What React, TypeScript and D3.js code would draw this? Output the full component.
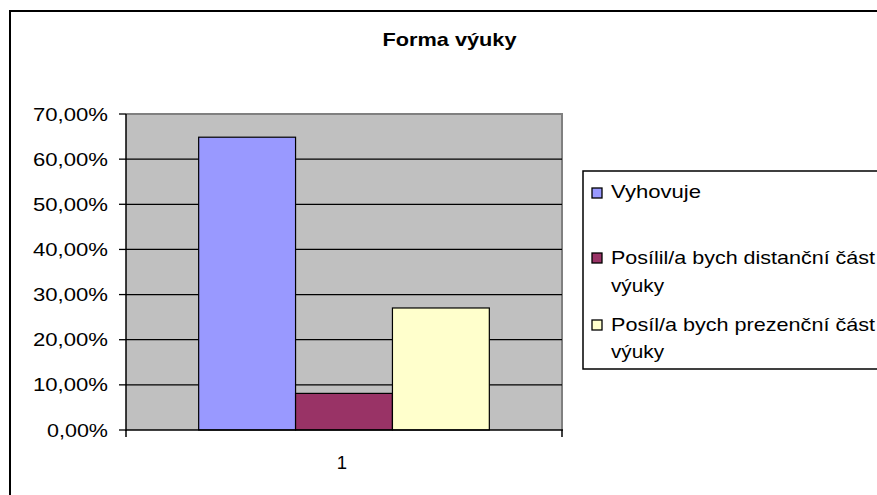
import React from "react";
import * as d3 from "d3";

const categories = ["1"];
const seriesNames = [
  "Vyhovuje",
  "Posílil/a bych distanční část výuky",
  "Posíl/a bych prezenční část výuky",
];
const seriesValues = [0.6486, 0.0811, 0.2703];
const seriesColors = ["#9999FF", "#993366", "#FFFFCC"];
const yTicks = [0, 0.1, 0.2, 0.3, 0.4, 0.5, 0.6, 0.7];
const legendLines = [
  ["Vyhovuje"],
  ["Posílil/a bych distanční část", "výuky"],
  ["Posíl/a bych prezenční část", "výuky"],
];
const title = "Forma výuky";

const FONT = "'Liberation Sans', Arial, sans-serif";

export default function App() {
  const W = 877, H = 495;
  const plot = { left: 126, right: 562, top: 114, bottom: 430 };
  const x = d3.scaleBand<string>().domain(categories).range([plot.left, plot.right]);
  const inner = d3
    .scaleBand<string>()
    .domain(seriesNames)
    .range([0, x.bandwidth()])
    .paddingInner(0)
    .paddingOuter(0.75);
  const y = d3.scaleLinear().domain([0, 0.7]).range([plot.bottom, plot.top]);
  const fmt = (v: number) => (v * 100).toFixed(2).replace(".", ",") + "%";

  const legendRows = [
    { sq: 188, lines: [198] },
    { sq: 253, lines: [264, 292] },
    { sq: 320, lines: [331, 358] },
  ];
  const lineWidths: Record<string, number> = {
    "Vyhovuje": 90,
    "Posílil/a bych distanční část": 264,
    "Posíl/a bych prezenční část": 264,
    "výuky": 53,
  };

  return (
    <svg
      width={W}
      height={H}
      style={{ position: "absolute", left: 0, top: 0, background: "#fff" }}
      fontFamily={FONT}
    >
      {/* outer chart border */}
      <rect x={10} y={11} width={W + 20} height={H + 20} fill="#fff" stroke="#000" strokeWidth={2} />

      {/* title */}
      <text
        x={449.5}
        y={46}
        textAnchor="middle"
        fontWeight="bold"
        fontSize={19}
        textLength={134}
        lengthAdjust="spacingAndGlyphs"
      >
        {title}
      </text>

      {/* plot area */}
      <rect
        x={plot.left}
        y={plot.top}
        width={plot.right - plot.left}
        height={plot.bottom - plot.top}
        fill="#C0C0C0"
      />
      <path
        d={`M${plot.left},${plot.top}H${plot.right}V${plot.bottom}`}
        fill="none"
        stroke="#808080"
        strokeWidth={2}
      />
      {/* gridlines */}
      {yTicks.slice(1, -1).map((t) => (
        <line
          key={t}
          x1={plot.left}
          x2={plot.right}
          y1={y(t)}
          y2={y(t)}
          stroke="#000"
          strokeWidth={1.3}
        />
      ))}

      {/* bars */}
      {categories.map((c) =>
        seriesNames.map((s, i) => (
          <rect
            key={c + s}
            x={(x(c) ?? 0) + (inner(s) ?? 0)}
            y={y(seriesValues[i])}
            width={inner.bandwidth()}
            height={y(0) - y(seriesValues[i])}
            fill={seriesColors[i]}
            stroke="#000"
            strokeWidth={1.2}
          />
        ))
      )}

      {/* y axis */}
      <line x1={plot.left} x2={plot.left} y1={plot.top} y2={plot.bottom + 1} stroke="#000" strokeWidth={1.5} />
      {yTicks.map((t) => (
        <g key={t}>
          <line x1={plot.left - 7} x2={plot.left} y1={y(t)} y2={y(t)} stroke="#000" strokeWidth={1.3} />
          <text
            x={108}
            y={y(t) + 6.5}
            textAnchor="end"
            fontSize={18.5}
            textLength={t === 0 ? 61 : 75}
            lengthAdjust="spacingAndGlyphs"
          >
            {fmt(t)}
          </text>
        </g>
      ))}

      {/* x axis */}
      <line x1={plot.left} x2={plot.right + 1} y1={plot.bottom} y2={plot.bottom} stroke="#000" strokeWidth={1.5} />
      {[plot.left, plot.right].map((px) => (
        <line key={px} x1={px} x2={px} y1={plot.bottom} y2={plot.bottom + 7} stroke="#000" strokeWidth={1.5} />
      ))}
      {categories.map((c) => (
        <text
          key={c}
          x={(x(c) ?? 0) + x.bandwidth() / 2 - 2}
          y={468.5}
          textAnchor="middle"
          fontSize={18.5}
        >
          {c}
        </text>
      ))}

      {/* legend */}
      <rect x={583} y={171} width={320} height={198} fill="#fff" stroke="#000" strokeWidth={1.5} />
      {seriesNames.map((s, i) => (
        <g key={s}>
          <rect
            x={592}
            y={legendRows[i].sq}
            width={10}
            height={10}
            fill={seriesColors[i]}
            stroke="#000"
            strokeWidth={1.3}
          />
          {legendLines[i].map((ln, j) => (
            <text
              key={j}
              x={611}
              y={legendRows[i].lines[j]}
              fontSize={18.5}
              textLength={lineWidths[ln]}
              lengthAdjust="spacingAndGlyphs"
            >
              {ln}
            </text>
          ))}
        </g>
      ))}
    </svg>
  );
}
